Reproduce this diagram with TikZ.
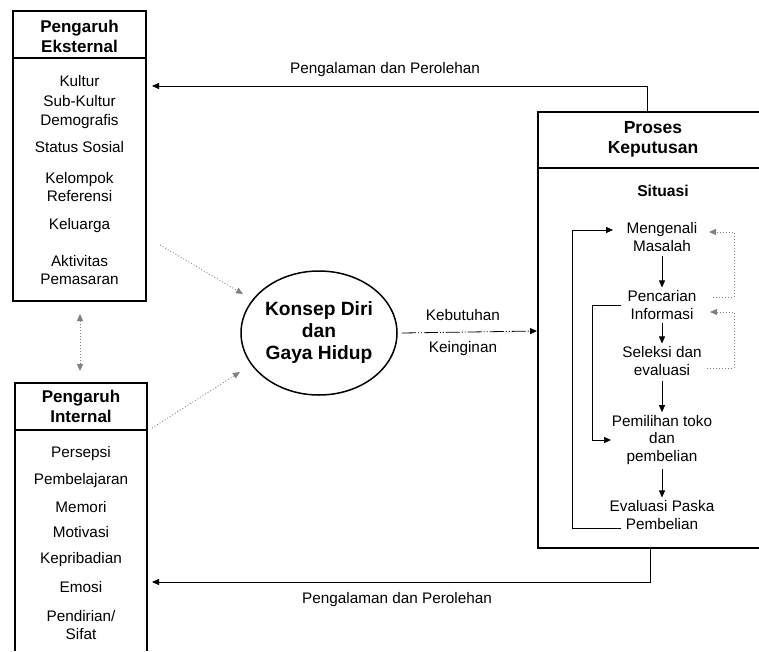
\documentclass[tikz,border=0pt]{standalone}
\usepackage{fontspec}
\setmainfont{Liberation Sans}
\usetikzlibrary{shapes.geometric,arrows.meta}
\begin{document}
\begin{tikzpicture}[x=1pt,y=-1pt,
  boxline/.style={draw=black,line width=1.3pt},
  item/.style={font=\fontsize{15.3}{17.5}\selectfont,align=center,inner sep=0pt},
  head/.style={font=\bfseries\fontsize{17}{20}\selectfont,align=center,inner sep=0pt},
  arr/.style={line width=0.9pt,-{Triangle[length=7pt,width=6pt]}},
  dotarr/.style={gray,line width=0.8pt,dash pattern=on 1pt off 2pt,-{Triangle[length=7pt,width=6pt]}},
  dotline/.style={gray,line width=0.8pt,dash pattern=on 1pt off 2pt},
  dasharr/.style={line width=0.8pt,dash pattern=on 14pt off 2pt on 1pt off 2pt on 1pt off 2pt,-{Triangle[length=7pt,width=6pt]}}
]
\useasboundingbox (0,0) rectangle (759,651);

% ---------- External box ----------
\node[boxline,minimum width=133pt,minimum height=290pt,inner sep=0pt] (ext) at (79.5,156) {};
\draw[line width=1.1pt] (ext.west |- 0,58) -- (ext.east |- 0,58);
\node[head] (exth) at (79.5,36) {Pengaruh\\Eksternal};
\node[item] (e1) at (79.5,81) {Kultur};
\node[item] (e2) at (79.5,101) {Sub-Kultur};
\node[item] (e3) at (79.5,122) {Demografis};
\node[item] (e4) at (79.5,147) {Status Sosial};
\node[item] (e5) at (79.5,187) {Kelompok\\Referensi};
\node[item] (e6) at (79.5,226) {Keluarga};
\node[item] (e7) at (79.5,270) {Aktivitas\\Pemasaran};

% ---------- Internal box ----------
\coordinate (intTL) at (15,383);
\coordinate (intTR) at (147,383);
\draw[boxline] (15,651) -- (intTL) -- (intTR) -- (147,651);
\draw[line width=1.1pt] (15,430) -- (147,430);
\node[head] (inth) at (81,406) {Pengaruh\\Internal};
\node[item] (i1) at (81,454) {Persepsi};
\node[item] (i2) at (81,481) {Pembelajaran};
\node[item] (i3) at (81,507) {Memori};
\node[item] (i4) at (81,532) {Motivasi};
\node[item] (i5) at (81,560) {Kepribadian};
\node[item] (i6) at (81,587) {Emosi};
\node[item] (i7) at (81,625) {Pendirian/\\Sifat};

% ---------- Ellipse ----------
\node[ellipse,draw,line width=1.5pt,minimum width=156pt,minimum height=124pt,inner sep=0pt,
      font=\bfseries\fontsize{19.2}{22}\selectfont,align=center] (kd) at (319,333) {Konsep Diri\\dan\\Gaya Hidup};

% ---------- Proses box ----------
\draw[boxline] (759,112) -- (538,112) -- (538,548) -- (759,548);
\draw[line width=1.1pt] (538,168) -- (759,168);
\node[head,font=\bfseries\fontsize{17.5}{20}\selectfont] (pkh) at (653,139) {Proses\\Keputusan};
\node[item,font=\bfseries\fontsize{15.7}{17}\selectfont] (sit) at (663,191) {Situasi};
\node[item] (s1) at (662,237) {Mengenali\\Masalah};
\node[item] (s2) at (662,305) {Pencarian\\Informasi};
\node[item] (s3) at (662,361) {Seleksi dan\\evaluasi};
\node[item] (s4) at (662,440) {Pemilihan toko\\dan\\pembelian};
\node[item] (s5) at (662,515) {Evaluasi Paska\\Pembelian};

\draw[arr,line width=0.7pt] ([yshift=-4pt]s1.south) -- ([yshift=3pt]s2.north);
\draw[arr,line width=0.7pt] ([yshift=-3pt]s2.south) -- ([yshift=3pt]s3.north);
\draw[arr,line width=0.7pt] ([yshift=-5pt]s3.south) -- ([yshift=3pt]s4.north);
\draw[arr,line width=0.7pt] ([yshift=-4pt]s4.south) -- ([yshift=3pt]s5.north);

% solid loops (left)
\coordinate (la1) at (621,528);
\coordinate (la2) at (613,230);
\draw[arr,line width=0.7pt] (la1) -- (572,528) -- (572,230) -- (la2);
\coordinate (lb1) at (621,305);
\coordinate (lb2) at (611,440);
\draw[arr,line width=0.7pt] (lb1) -- (592,305) -- (592,440) -- (lb2);

% dotted loops (right)
\coordinate (rc1) at (713,297);
\coordinate (rc2) at (709,232);
\draw[dotarr] (rc1) -- (734,297) -- (734,232) -- (rc2);
\coordinate (rd1) at (707,368);
\coordinate (rd2) at (710,312);
\draw[dotarr] (rd1) -- (734,368) -- (734,312) -- (rd2);

% ---------- Feedback arrows ----------
\coordinate (pktop) at (647,112);
\coordinate (tfbtip) at (152,86);
\draw[arr] (pktop) -- (647,86) -- (tfbtip);
\node[item] (tfbl) at (385,70) {Pengalaman dan Perolehan};

\coordinate (pkbot) at (650,548);
\coordinate (bfbtip) at (152,582);
\draw[arr] (pkbot) -- (650,582) -- (bfbtip);
\node[item] (bfbl) at (397,600) {Pengalaman dan Perolehan};

% ---------- Ellipse connections ----------
\coordinate (pkleft) at (537,331);
\draw[dasharr] ([xshift=4pt]kd.east) -- (pkleft);
\node[item] (keb) at (463,315) {Kebutuhan};
\node[item] (kei) at (463,349) {Keinginan};

\coordinate (d1s) at (160,245);
\coordinate (d1t) at (243,294);
\draw[dotarr] (d1s) -- (d1t);
\coordinate (d2s) at (152,428);
\coordinate (d2t) at (240,372);
\draw[dotarr] (d2s) -- (d2t);

% double dotted between boxes
\coordinate (vtop) at (80,314);
\coordinate (vbot) at (80,371);
\draw[dotline,{Triangle[length=7pt,width=6pt]}-{Triangle[length=7pt,width=6pt]}] (vtop) -- (vbot);
\end{tikzpicture}
\end{document}
